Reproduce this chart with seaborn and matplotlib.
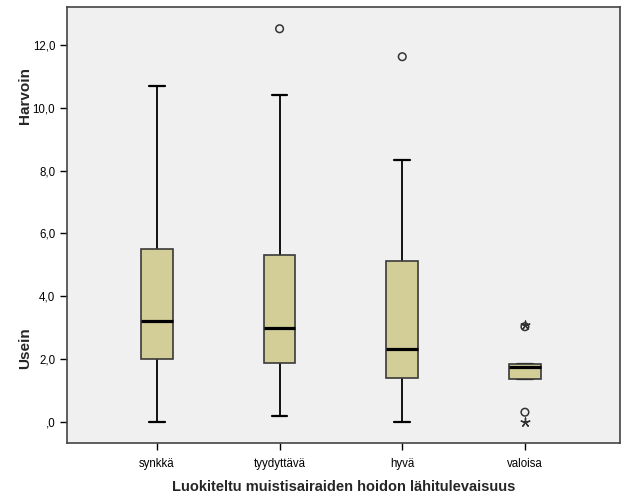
import matplotlib
matplotlib.use("Agg")
import matplotlib.pyplot as plt
import seaborn as sns
import pandas as pd

categories = ["synkkä", "tyydyttävä", "hyvä", "valoisa"]
whisker_low = [0.0, 0.2, 0.0, 1.38]
q1 = [2.0, 1.86, 1.41, 1.38]
median = [3.21, 3.0, 2.31, 1.75]
q3 = [5.51, 5.31, 5.11, 1.83]
whisker_high = [10.69, 10.41, 8.34, 1.83]

outlier_cat = ["tyydyttävä", "hyvä", "valoisa", "valoisa"]
outlier_val = [12.51, 11.62, 3.03, 0.31]
extreme_cat = ["valoisa", "valoisa"]
extreme_val = [3.09, 0.01]

yticks = [0, 2, 4, 6, 8, 10, 12]
ytick_labels = [",0", "2,0", "4,0", "6,0", "8,0", "10,0", "12,0"]

sns.set_style("white")
plt.rcParams["font.family"] = ["Liberation Sans", "DejaVu Sans"]

rows = []
for i, c in enumerate(categories):
    for v in (whisker_low[i], q1[i], median[i], q3[i], whisker_high[i]):
        rows.append({"cat": c, "val": v})
df = pd.DataFrame(rows)

fig = plt.figure(figsize=(6.29, 5.04), dpi=100)
ax = fig.add_axes([0.1065, 0.121, 0.879, 0.865])
ax.set_facecolor("#F0F0F0")

sns.boxplot(data=df, x="cat", y="val", order=categories, whis=(0, 100),
            width=0.258, color="#D3CE97", saturation=1, ax=ax, showfliers=False,
            boxprops=dict(facecolor="#D3CE97", edgecolor="#3a3a3a", linewidth=1.2, zorder=3),
            whiskerprops=dict(color="black", linewidth=1.3, zorder=2),
            capprops=dict(color="black", linewidth=1.6, zorder=2),
            medianprops=dict(color="black", linewidth=2.3, zorder=4))

ocodes = [categories.index(c) for c in outlier_cat]
ecodes = [categories.index(c) for c in extreme_cat]
ax.scatter(ocodes, outlier_val, marker="o", s=30, facecolors="none",
           edgecolors="#333333", linewidths=1.1, zorder=5)
ax.scatter(ecodes, extreme_val, marker=(5, 2, 0), s=40, color="#333333",
           linewidths=1.0, zorder=5)

ax.set_xlim(-0.733, 3.774)
ax.set_ylim(-0.67, 13.2)
ax.set_yticks(yticks)
ax.set_yticklabels(ytick_labels)
ax.tick_params(axis="both", direction="out", length=5, width=1, color="black",
               labelsize=8.3, labelcolor="black", left=True, bottom=True)
ax.tick_params(axis="x", pad=6)
for s in ax.spines.values():
    s.set_color("#444444")
    s.set_linewidth(1.2)

ax.set_xlabel("Luokiteltu muistisairaiden hoidon lähitulevaisuus",
              fontsize=10.5, fontweight="bold", labelpad=7)
ax.set_ylabel("")
fig.text(25 / 629, 1 - 95 / 504, "Harvoin", rotation=90, ha="center", va="center",
         fontsize=11, fontweight="bold")
fig.text(25 / 629, 1 - 348 / 504, "Usein", rotation=90, ha="center", va="center",
         fontsize=11, fontweight="bold")

fig.savefig("out.png", dpi=100, facecolor="white")
